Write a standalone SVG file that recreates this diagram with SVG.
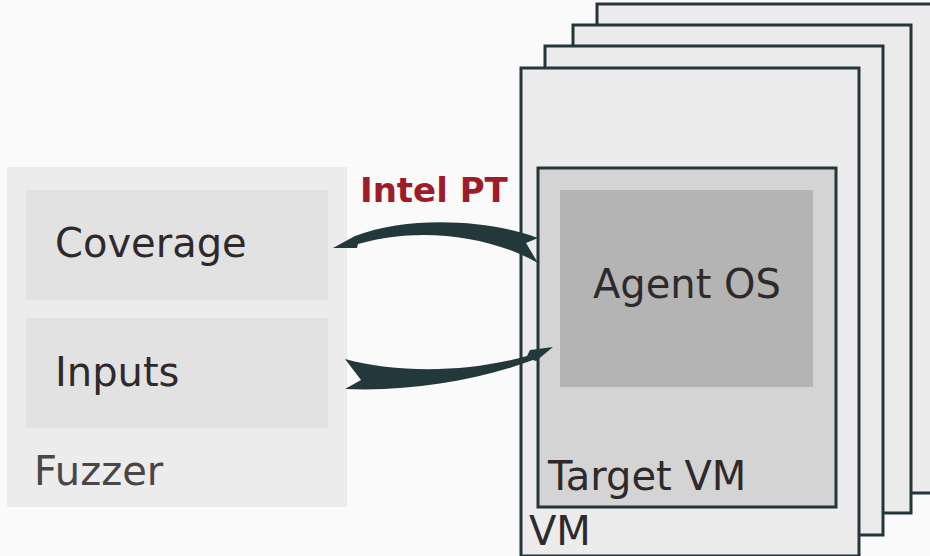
<svg xmlns="http://www.w3.org/2000/svg" width="930" height="556" viewBox="0 0 930 556">
<style>
  .vm{fill:#ececec;stroke:#233639;stroke-width:3}
  .lbl{font-family:"DejaVu Sans",sans-serif;font-size:40px;fill:#2e2a2b}
  .arrow{fill:#22383a}
</style>
<rect x="0" y="0" width="930" height="556" fill="#fafafa"/>
<g id="fuzzer">
  <rect x="7" y="167" width="340" height="340" fill="#ececec"/>
  <text class="lbl" x="34" y="485" style="fill:#4a4547">Fuzzer</text>
</g>
<g id="coverage">
  <rect x="26" y="190" width="302" height="110" fill="#e2e2e2"/>
  <text class="lbl" x="55" y="257">Coverage</text>
</g>
<g id="inputs">
  <rect x="26" y="318" width="302" height="110" fill="#e2e2e2"/>
  <text class="lbl" x="55" y="386">Inputs</text>
</g>
<g id="vm-stack">
  <rect class="vm" x="597" y="4" width="340" height="489"/>
  <rect class="vm" x="573" y="25" width="338" height="488"/>
  <rect class="vm" x="545" y="46" width="338" height="489"/>
</g>
<g id="vm">
  <rect class="vm" x="521" y="68" width="338" height="488"/>
  <text class="lbl" x="529" y="545">VM</text>
</g>
<g id="target-vm">
  <rect x="538" y="168" width="298" height="339" fill="#d4d4d4" stroke="#233639" stroke-width="3"/>
  <text class="lbl" x="548" y="490">Target VM</text>
</g>
<g id="agent-os">
  <rect x="560" y="190" width="253" height="197" fill="#b4b4b4"/>
  <text class="lbl" x="593" y="298">Agent OS</text>
</g>
<g id="connectors">
  <path class="arrow" d="M538,238 C490,220 410,215 355,236 L333,248 L357,248 L358,244 C420,226 490,236 538,263 L526,243 Z"/>
  <path class="arrow" d="M345,359 C400,374 470,372 527,356 L530,350 L553,347 L536,361 L533,360 C480,380 410,392 345,389 L361,380 Z"/>
  <text x="360" y="202" style="font-family:'DejaVu Sans',sans-serif;font-weight:bold;font-size:34px;fill:#9e1b2a">Intel PT</text>
</g>
</svg>
